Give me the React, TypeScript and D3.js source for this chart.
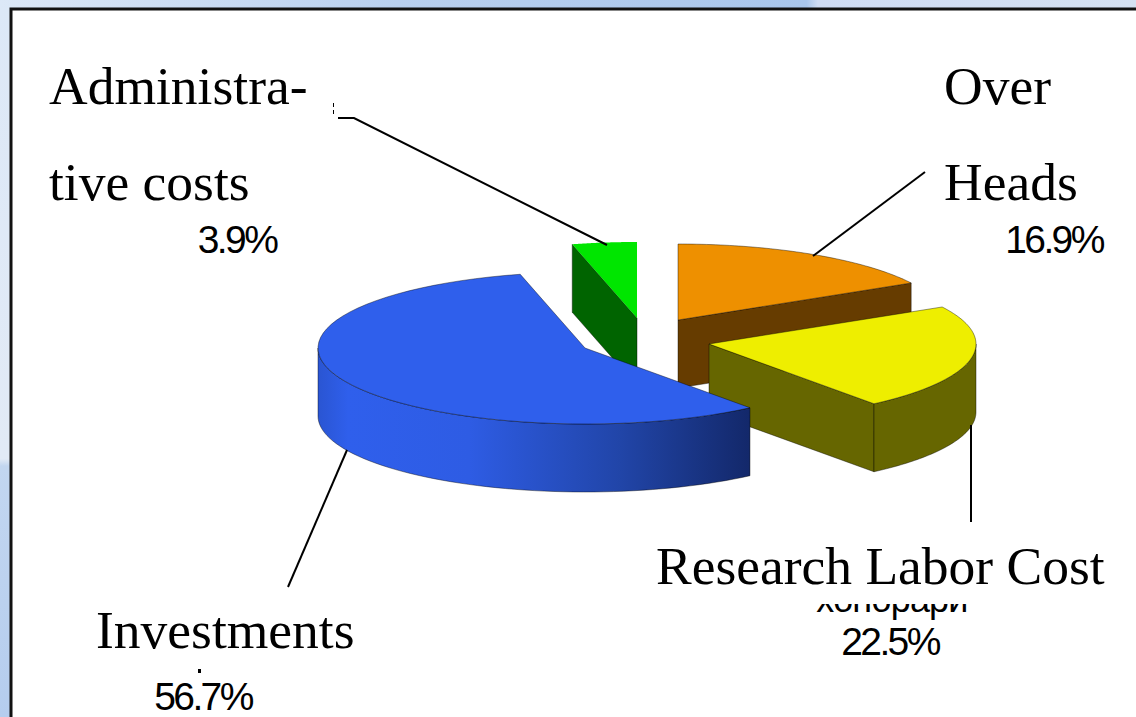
import React from "react";
import * as d3 from "d3";

const categories = ["Over Heads", "Research Labor Cost", "Investments", "Administrative costs"];
const shares = [16.9, 22.5, 56.7, 3.9];
const topColors = ["#ee9000", "#eeee00", "#2f5fec", "#00e600"];
const sideColors = ["#663c00", "#666600", "#2f5fec", "#006400"];
const centers: [number, number][] = [[678, 320], [709, 344], [585, 348], [637, 318]];
const percentLabels = ["16.9%", "22.5%", "56.7%", "3.9%"];

const RX = 267;
const RY = 76;
const DEPTH = 68;

const pieLayout = d3.pie<number>().sort(null).startAngle(0).endAngle(2 * Math.PI);
const arcs = pieLayout(shares);

// d3 angle: 0 at 12 o'clock, clockwise
const pt = (c: [number, number], a: number, dy = 0): [number, number] => [
  c[0] + RX * Math.sin(a),
  c[1] - RY * Math.cos(a) + dy,
];

function arcPath(c: [number, number], a0: number, a1: number, dy = 0, reverse = false) {
  const n = 60;
  const pts = d3.range(n + 1).map((i) => pt(c, a0 + ((a1 - a0) * i) / n, dy));
  if (reverse) pts.reverse();
  return pts;
}
const line = d3.line();

function topPath(i: number) {
  const a = arcs[i];
  return line([centers[i], ...arcPath(centers[i], a.startAngle, a.endAngle)])! + "Z";
}
function outerWall(i: number, from: number, to: number) {
  const c = centers[i];
  return line([...arcPath(c, from, to), ...arcPath(c, from, to, DEPTH, true)])! + "Z";
}
function cutFace(i: number, a: number) {
  const c = centers[i];
  const p = pt(c, a);
  return line([c, p, [p[0], p[1] + DEPTH], [c[0], c[1] + DEPTH]])! + "Z";
}

const serif = "'Liberation Serif', 'Times New Roman', serif";
const sans = "'Liberation Sans', Arial, sans-serif";
const edge = { stroke: "#00000066", strokeWidth: 1 };

export default function App() {
  return (
    <svg
      width={1136}
      height={717}
      viewBox="0 0 1136 717"
      style={{ position: "fixed", left: 0, top: 0, display: "block" }}
    >
      <defs>
        <linearGradient id="topBg" gradientUnits="userSpaceOnUse" x1={0} y1={0} x2={1136} y2={0}>
          <stop offset="0" stopColor="#dce8f7" />
          <stop offset="0.35" stopColor="#b9d0ef" />
          <stop offset="0.71" stopColor="#a9c6ec" />
          <stop offset="0.72" stopColor="#cfdcf4" />
          <stop offset="1" stopColor="#d5e1f2" />
        </linearGradient>
        <linearGradient id="leftBg" gradientUnits="userSpaceOnUse" x1={0} y1={0} x2={0} y2={717}>
          <stop offset="0" stopColor="#dce8f7" />
          <stop offset="0.64" stopColor="#e2eaf6" />
          <stop offset="0.65" stopColor="#c2d6f0" />
          <stop offset="1" stopColor="#b5cdee" />
        </linearGradient>
        <linearGradient id="blueWall" gradientUnits="userSpaceOnUse" x1={318} y1={0} x2={750} y2={0}>
          <stop offset="0" stopColor="#2a55d2" />
          <stop offset="0.07" stopColor="#2f5fec" />
          <stop offset="0.35" stopColor="#2e5ce4" />
          <stop offset="0.7" stopColor="#2145a8" />
          <stop offset="1" stopColor="#13286a" />
        </linearGradient>
        <clipPath id="fragClip">
          <rect x={780} y={604} width={220} height={18} />
        </clipPath>
      </defs>

      <rect x={0} y={0} width={1136} height={717} fill="url(#topBg)" />
      <rect x={0} y={8} width={10} height={709} fill="url(#leftBg)" />
      <rect x={11} y={9} width={1140} height={730} fill="#fff" stroke="#111" strokeWidth={3} />

      {/* Administrative costs */}
      <path d={cutFace(3, arcs[3].startAngle)} fill={sideColors[3]} {...edge} />
      <path d={topPath(3)} fill={topColors[3]} />

      {/* Over Heads */}
      <path d={cutFace(0, arcs[0].endAngle)} fill={sideColors[0]} {...edge} />
      <path d={topPath(0)} fill={topColors[0]} {...edge} />

      {/* Research Labor Cost */}
      <path d={cutFace(1, arcs[1].endAngle)} fill={sideColors[1]} {...edge} />
      <path d={outerWall(1, Math.PI / 2, arcs[1].endAngle)} fill={sideColors[1]} {...edge} />
      <path d={topPath(1)} fill={topColors[1]} {...edge} />

      {/* Investments */}
      <path d={outerWall(2, arcs[2].startAngle, (3 * Math.PI) / 2)} fill="url(#blueWall)" {...edge} />
      <path d={topPath(2)} fill={topColors[2]} {...edge} />

      {/* Leader lines */}
      <g stroke="#000" strokeWidth={2} fill="none">
        <path d="M338,118 L354,118 L607,245" />
        <path d="M925,172 L813,256" />
        <path d="M971,425 L971,522" />
        <path d="M347,450 L288,587" />
        <path d="M333.5,103 L333.5,116" strokeWidth={1} strokeDasharray="4 3" />
      </g>

      {/* Labels */}
      <g fontFamily={serif} fontSize={53.5} fill="#000">
        <text x={49} y={104}>Administra-</text>
        <text x={49} y={200}>tive costs</text>
        <text x={944} y={104}>Over</text>
        <text x={944} y={200}>Heads</text>
        <text x={656} y={584}>{categories[1]}</text>
        <text x={96} y={648}>{categories[2]}</text>
      </g>
      <g fontFamily={sans} fontSize={39} letterSpacing={-2.6} fill="#000" textAnchor="middle">
        <text x={1054} y={253}>{percentLabels[0]}</text>
        <text x={890} y={655}>{percentLabels[1]}</text>
        <text x={203} y={710}>{percentLabels[2]}</text>
        <text x={237} y={253}>{percentLabels[3]}</text>
      </g>
      <text
        x={892}
        y={612}
        clipPath="url(#fragClip)"
        fontFamily={sans}
        fontSize={36}
        letterSpacing={-0.8}
        textAnchor="middle"
        fill="#000"
      >
        хонорари
      </text>
      <rect x={198} y={669} width={3} height={4} fill="#000" />
    </svg>
  );
}
